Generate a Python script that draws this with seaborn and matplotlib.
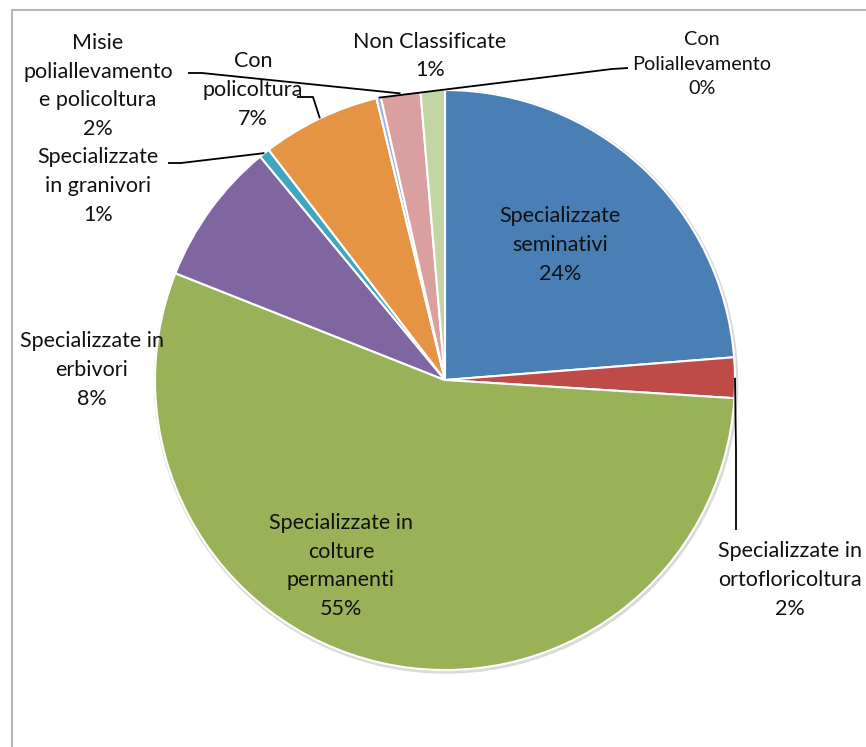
import matplotlib
matplotlib.use("Agg")
import matplotlib.pyplot as plt
import seaborn as sns
import numpy as np
from matplotlib.lines import Line2D
from matplotlib.patches import Circle

categories = [
    "Specializzate\nseminativi",
    "Specializzate in\nortofloricoltura",
    "Specializzate in\ncolture\npermanenti",
    "Specializzate in\nerbivori",
    "Specializzate\nin granivori",
    "Con\npolicoltura",
    "Con\nPoliallevamento",
    "Misie\npoliallevamento\ne policoltura",
    "Non Classificate",
]
values = [23.75, 2.25, 55.0, 8.0, 0.6, 6.6, 0.25, 2.2, 1.35]
colors = ["#4A7FB5", "#BE4B48", "#99B257", "#7F66A0", "#3FA6C2",
          "#E59443", "#9CB5DA", "#D9A09F", "#C3D5A3"]

sns.set_theme(style="white")
plt.rcParams['font.family'] = ['Lato', 'DejaVu Sans']

W, H = 866, 747
fig = plt.figure(figsize=(W / 100, H / 100), dpi=100)
ax = fig.add_axes([0, 0, 1, 1])

def P(x, y):
    # pixel coords (top-left origin) -> data coords
    return (x, H - y)

cx, cy = 445, 380
R = 290

# subtle shadow
ax.add_patch(Circle(P(cx + 1, cy + 1.5), R + 1.5, color="#dadada", zorder=0))

wedges, _ = ax.pie(values, colors=colors, startangle=90, counterclock=False,
                   radius=R, center=P(cx, cy),
                   wedgeprops=dict(edgecolor="white", linewidth=1.5),
                   frame=True)
ax.set_xlim(0, W)
ax.set_ylim(0, H)
ax.set_aspect("equal")
ax.axis("off")

def anchor(i, r=R):
    w = wedges[i]
    th = np.deg2rad((w.theta1 + w.theta2) / 2)
    return (w.center[0] + r * np.cos(th), w.center[1] + r * np.sin(th))

def label(i, x, y, fs=15.5, ls=1.56):
    txt = f"{categories[i]}\n{values[i]:.0f}%"
    ax.text(*P(x, y), txt, ha="center", va="center", fontsize=fs,
            linespacing=ls, color="#111111", zorder=5)

label(0, 560, 245)
label(1, 790, 580)
label(2, 341, 566)
label(3, 92, 370)
label(4, 98, 186)
label(5, 253, 90)
label(6, 702, 64, fs=14.3, ls=1.52)
label(7, 98, 86)
label(8, 430, 56)

def leader(i, pts):
    xs = [P(*p)[0] for p in pts]
    ys = [P(*p)[1] for p in pts]
    a = anchor(i)
    xs.append(a[0]); ys.append(a[1])
    ax.plot(xs, ys, color="black", lw=1.3, zorder=4, solid_capstyle="butt")

leader(1, [(736, 530), (736, 450)])
leader(4, [(168, 163), (181, 163)])
leader(5, [(297, 97), (313, 97)])
leader(7, [(188, 73), (202, 73)])
leader(6, [(628, 68), (612, 69)])

# chart frame (partially visible)
fig.add_artist(Line2D([12 / W, 12 / W], [0, 1 - 10 / H], transform=fig.transFigure,
                      color="#b5b5b5", lw=1.5))
fig.add_artist(Line2D([12 / W, 1], [1 - 10 / H, 1 - 10 / H], transform=fig.transFigure,
                      color="#b5b5b5", lw=1.5))

fig.savefig("out.png", dpi=100, facecolor="white")
